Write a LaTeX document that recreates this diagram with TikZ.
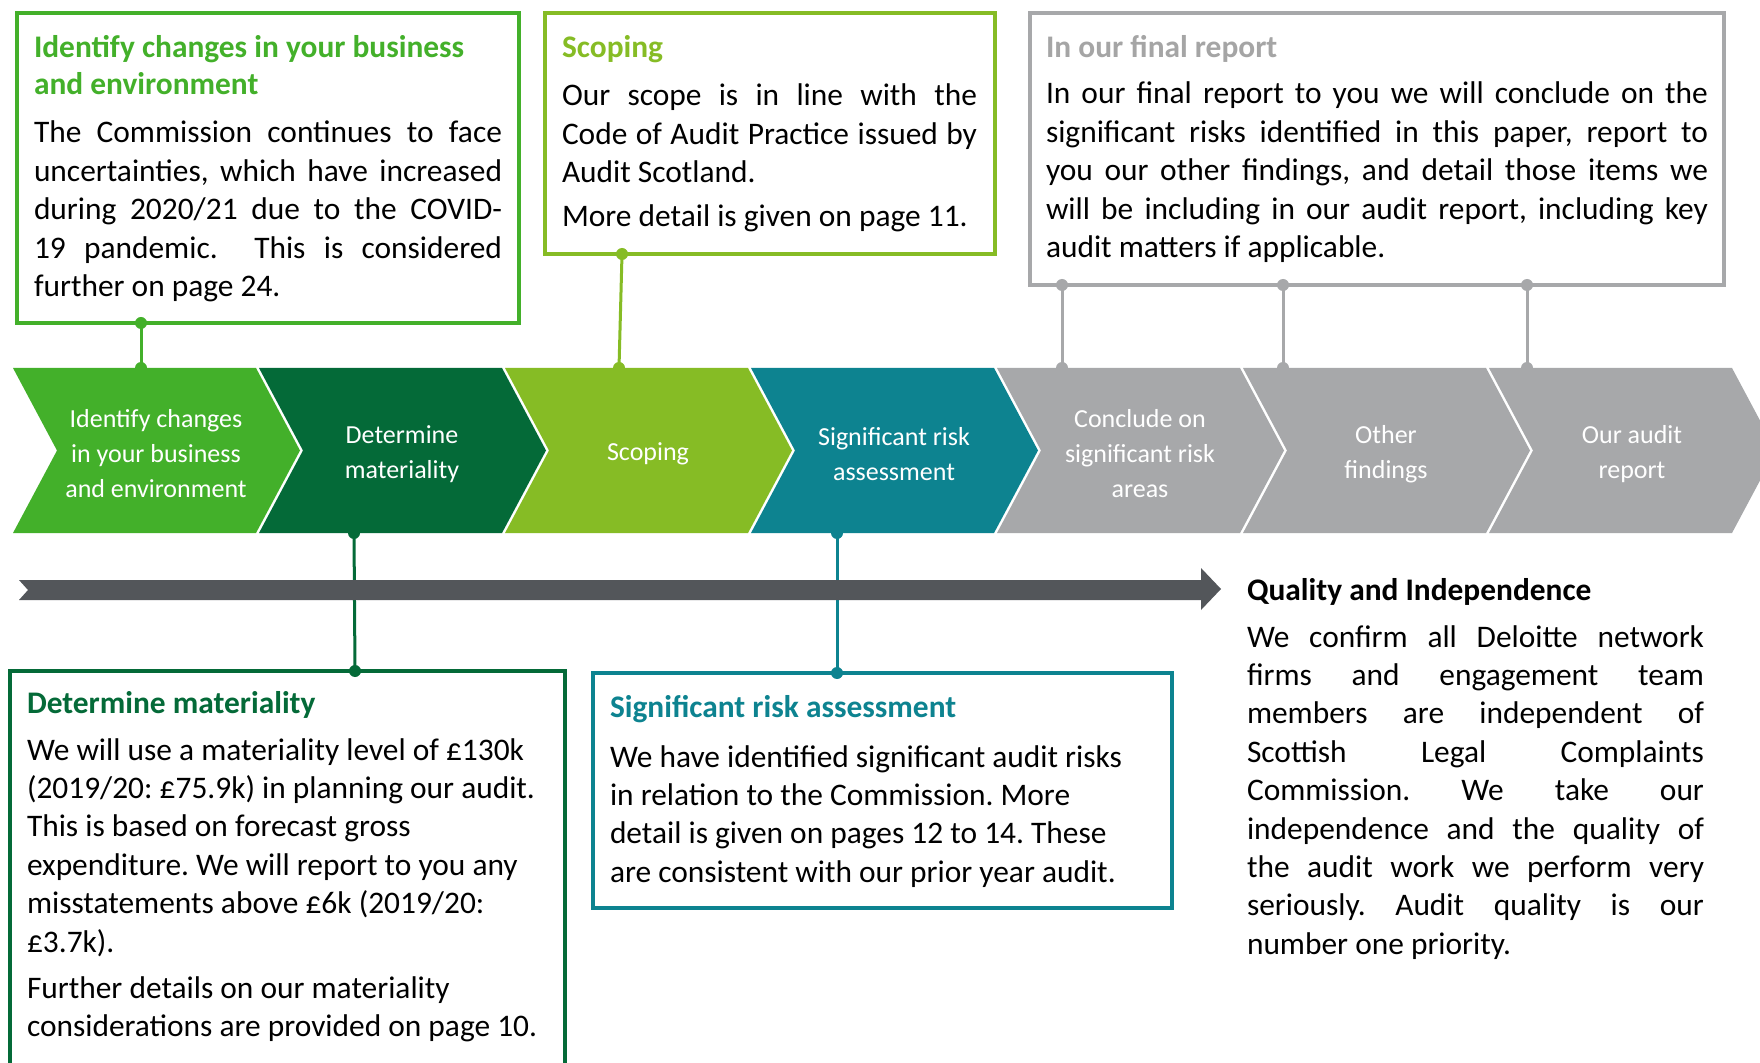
\documentclass[tikz,border=0pt]{standalone}
\usepackage{fontspec}
\setmainfont{Carlito}
\frenchspacing
\usetikzlibrary{fit}
\definecolor{gA}{HTML}{43B02A}
\definecolor{gD}{HTML}{046A38}
\definecolor{gL}{HTML}{86BC25}
\definecolor{tl}{HTML}{0D8390}
\definecolor{gy}{HTML}{A7A8AA}
\definecolor{gyt}{HTML}{A5A5A5}
\definecolor{ar}{HTML}{53565A}
\newcommand\bodyfont{\fontsize{15.7}{19.2}\selectfont}
\newcommand\chevfont{\fontsize{13}{17.5}\selectfont}
\newcommand\jpar[2]{\parbox[t]{#1}{\bodyfont\frenchspacing\tolerance=10000\hbadness=10000\emergencystretch=0pt #2}}
\newcommand\rpar[2]{\parbox[t]{#1}{\bodyfont\frenchspacing\raggedright #2}}
\tikzset{
  frame/.style={draw=#1, line width=2pt, inner sep=0pt, outer sep=0pt},
  txt/.style={anchor=base west, inner sep=0pt, outer sep=0pt},
  ttl/.style={anchor=base west, inner sep=0pt, outer sep=0pt, text=#1, font=\bodyfont\bfseries},
  conn/.style={draw=#1, line width=1.5pt},
  dot/.style={circle, fill=#1, inner sep=0pt, minimum size=6pt},
  chevtxt/.style={text=white, align=center, font=\chevfont, inner sep=0pt},
}
\begin{document}
\begin{tikzpicture}[x=0.5pt,y=-0.5pt]
\useasboundingbox (0,0) rectangle (1760,1063);
\clip (0,0) rectangle (1760,1063);
\fill[white] (0,0) rectangle (1760,1063);

% boxes
\node[frame=gA, fit={(17,13) (519,323)}] (b1) {};
\node[frame=gL, fit={(545,13) (995,254)}] (b2) {};
\node[frame=gy, fit={(1030,13) (1724,285)}] (b3) {};
\node[frame=gD, fit={(10,671) (565,1090)}] (b4) {};
\node[frame=tl, fit={(593,673) (1172,908)}] (b5) {};

% connector dots
\node[dot=gA] (k1a) at (141,323) {};
\node[dot=gA] (k1b) at (141,368) {};
\node[dot=gL] (k2a) at (622,254) {};
\node[dot=gL] (k2b) at (619,368) {};
\node[dot=gy] (k3a) at (1062,285) {};
\node[dot=gy] (k3b) at (1062,368) {};
\node[dot=gy] (k4a) at (1283,285) {};
\node[dot=gy] (k4b) at (1283,368) {};
\node[dot=gy] (k5a) at (1527,285) {};
\node[dot=gy] (k5b) at (1527,368) {};
\node[dot=gD] (k6a) at (354,533) {};
\node[dot=gD] (k6b) at (355,671) {};
\node[dot=tl] (k7a) at (837,533) {};
\node[dot=tl] (k7b) at (837,673) {};
\draw[conn=gA] (k1a.center) -- (k1b.center);
\draw[conn=gL] (k2a.center) -- (k2b.center);
\draw[conn=gy] (k3a.center) -- (k3b.center);
\draw[conn=gy] (k4a.center) -- (k4b.center);
\draw[conn=gy] (k5a.center) -- (k5b.center);
\draw[conn=gD] (k6a.center) -- (k6b.center);
\draw[conn=tl] (k7a.center) -- (k7b.center);

% chevrons
\foreach \L/\c in {13/gA,259/gD,505/gL,751/tl,997/gy,1243/gy,1489/gy}
  \fill[\c] (\L,368) -- ++(243,0) -- ++(44,82.5) -- ++(-44,82.5) -- (\L,533) -- ++(44,-82.5) -- cycle;
\node[chevtxt] (ch1) at (156,454) {Identify changes\\in your business\\and environment};
\node[chevtxt] (ch2) at (402,454) {Determine\\materiality};
\node[chevtxt] (ch3) at (648,454) {Scoping};
\node[chevtxt] (ch4) at (894,454) {Significant risk\\assessment};
\node[chevtxt] (ch5) at (1140,454) {Conclude on\\significant risk\\areas};
\node[chevtxt] (ch6) at (1386,454) {Other\\findings};
\node[chevtxt] (ch7) at (1632,454) {Our audit\\report};

% timeline arrow
\fill[ar] (19,580) -- (1201,580) -- (1201,568) -- (1221,589) -- (1201,610) -- (1201,600) -- (19,600) -- (28,590) -- cycle;

% box 1 text
\node[ttl=gA] (t1) at (34,58) {\parbox[t]{240pt}{\fontsize{15.7}{18.5}\selectfont\bfseries Identify changes in your business\\and environment}};
\node[txt] (p1) at (34,143) {\jpar{234pt}{The Commission continues to face\linebreak uncertainties, which have increased\linebreak during 2020/21 due to the COVID-\linebreak 19 pandemic.\ \ This is considered\linebreak further on page 24.}};

% box 2 text
\node[ttl=gL] (t2) at (562,58) {Scoping};
\node[txt] (p2) at (562,106) {\jpar{207.5pt}{Our scope is in line with the\linebreak Code of Audit Practice issued by\linebreak Audit Scotland.}};
\node[txt] (p2b) at (562,227) {\jpar{207.5pt}{More detail is given on page 11.}};

% box 3 text
\node[ttl=gyt] (t3) at (1046,58) {In our final report};
\node[txt] (p3) at (1046,104) {\jpar{331pt}{In our final report to you we will conclude on the\linebreak significant risks identified in this paper, report to\linebreak you our other findings, and detail those items we\linebreak will be including in our audit report, including key\linebreak audit matters if applicable.}};

% box 4 text
\node[ttl=gD] (t4) at (27,713) {Determine materiality};
\node[txt] (p4) at (27,760) {\rpar{275pt}{We will use a materiality level of £130k\\(2019/20: £75.9k) in planning our audit.\\This is based on forecast gross\\expenditure. We will report to you any\\misstatements above £6k (2019/20:\\£3.7k).}};
\node[txt] (p4b) at (27,998) {\rpar{275pt}{Further details on our materiality\\considerations are provided on page 10.}};

% box 5 text
\node[ttl=tl] (t5) at (610,717) {Significant risk assessment};
\node[txt] (p5) at (610,767) {\rpar{275pt}{We have identified significant audit risks\\in relation to the Commission. More\\detail is given on pages 12 to 14. These\\are consistent with our prior year audit.}};

% quality text
\node[ttl=black] (t6) at (1247,600) {Quality and Independence};
\node[txt] (p6) at (1247,647) {\jpar{228.5pt}{We confirm all Deloitte network\linebreak firms and engagement team\linebreak members are independent of\linebreak Scottish Legal Complaints\linebreak Commission. We take our\linebreak independence and the quality of\linebreak the audit work we perform very\linebreak seriously. Audit quality is our\linebreak number one priority.}};
\end{tikzpicture}
\end{document}
